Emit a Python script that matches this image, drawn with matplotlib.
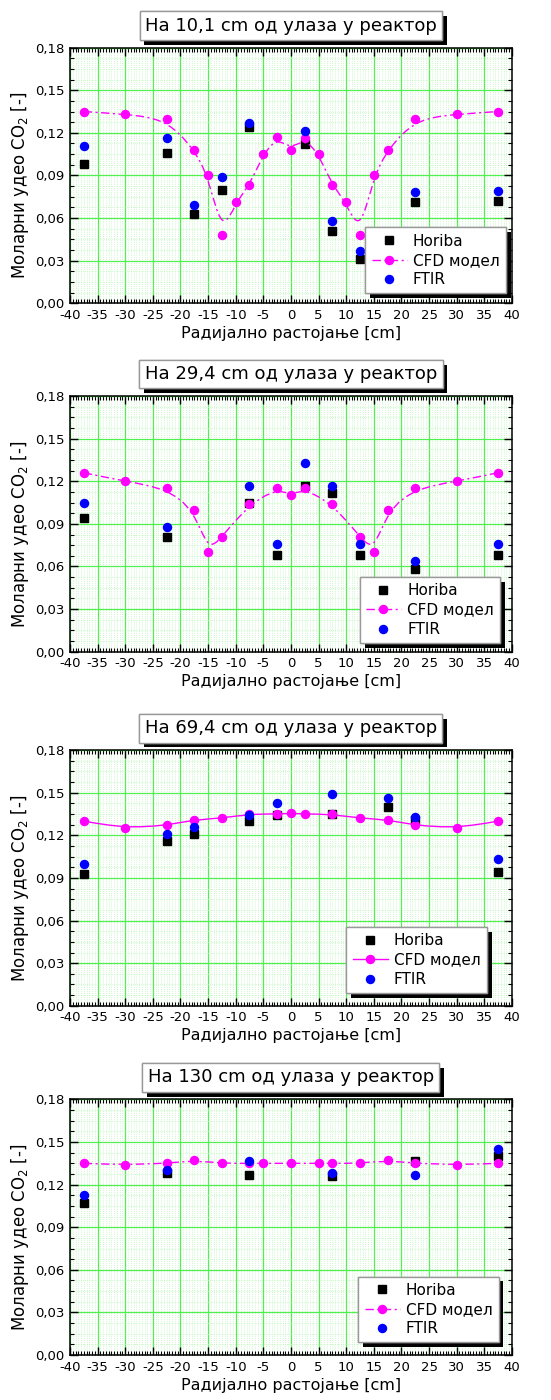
import matplotlib
matplotlib.use("Agg")
import matplotlib.pyplot as plt
import numpy as np
from matplotlib.path import Path
from matplotlib.patches import PathPatch
from matplotlib.lines import Line2D
from matplotlib.ticker import MultipleLocator, FuncFormatter
import matplotlib.patheffects as pe

plt.rcParams['font.family'] = ['DejaVu Sans']

# ---------------- data ----------------
titles = ["На 10,1 cm од улаза у реактор",
          "На 29,4 cm од улаза у реактор",
          "На 69,4 cm од улаза у реактор",
          "На 130 cm од улаза у реактор"]

x_meas_1 = [-37.5, -22.5, -17.5, -12.5, -7.5, 2.5, 7.5, 12.5, 22.5, 37.5]
horiba_1 = [0.098, 0.106, 0.063, 0.080, 0.124, 0.112, 0.051, 0.031, 0.071, 0.072]
ftir_1 = [0.111, 0.116, 0.069, 0.089, 0.127, 0.121, 0.058, 0.037, 0.078, 0.079]
x_cfd_1 = [-37.5, -30, -22.5, -17.5, -15, -12.5, -10, -7.5, -5, -2.5, 0,
           2.5, 5, 7.5, 10, 12.5, 15, 17.5, 22.5, 30, 37.5]
cfd_1 = [0.135, 0.133, 0.130, 0.108, 0.090, 0.048, 0.071, 0.083, 0.105, 0.117, 0.108,
         0.1165, 0.105, 0.083, 0.071, 0.048, 0.090, 0.108, 0.130, 0.133, 0.135]

x_meas_2 = [-37.5, -22.5, -7.5, -2.5, 2.5, 7.5, 12.5, 22.5, 37.5]
horiba_2 = [0.094, 0.081, 0.105, 0.068, 0.117, 0.112, 0.068, 0.058, 0.068]
ftir_2 = [0.105, 0.088, 0.117, 0.076, 0.133, 0.117, 0.076, 0.064, 0.076]
x_cfd_2 = [-37.5, -30, -22.5, -17.5, -15, -12.5, -7.5, -2.5, 0, 2.5, 7.5,
           12.5, 15, 17.5, 22.5, 30, 37.5]
cfd_2 = [0.126, 0.120, 0.115, 0.100, 0.070, 0.081, 0.104, 0.115, 0.110, 0.115, 0.104,
         0.081, 0.070, 0.100, 0.115, 0.120, 0.126]

x_meas_3 = [-37.5, -22.5, -17.5, -7.5, -2.5, 7.5, 17.5, 22.5, 37.5]
horiba_3 = [0.093, 0.116, 0.121, 0.130, 0.134, 0.135, 0.140, 0.131, 0.094]
ftir_3 = [0.100, 0.121, 0.126, 0.1345, 0.143, 0.149, 0.146, 0.133, 0.103]
x_cfd_3 = [-37.5, -30, -22.5, -17.5, -12.5, -7.5, -2.5, 0, 2.5, 7.5,
           12.5, 17.5, 22.5, 30, 37.5]
cfd_3 = [0.130, 0.125, 0.127, 0.131, 0.132, 0.135, 0.135, 0.1355, 0.135, 0.1348,
         0.132, 0.131, 0.127, 0.125, 0.130]

x_meas_4 = [-37.5, -22.5, -7.5, 7.5, 22.5, 37.5]
horiba_4 = [0.107, 0.128, 0.127, 0.126, 0.1365, 0.140]
ftir_4 = [0.113, 0.130, 0.1365, 0.128, 0.127, 0.145]
x_cfd_4 = [-37.5, -30, -22.5, -17.5, -12.5, -7.5, -5, 0, 5, 7.5,
           12.5, 17.5, 22.5, 30, 37.5]
cfd_4 = [0.135, 0.134, 0.135, 0.137, 0.135, 0.135, 0.135, 0.135, 0.135, 0.135,
         0.135, 0.137, 0.135, 0.134, 0.135]

legend_labels = ["Horiba", "CFD модел", "FTIR"]
xlabel = "Радијално растојање [cm]"
ylabel = "Моларни удео CO$_2$ [-]"

panels = [
    (x_meas_1, horiba_1, ftir_1, x_cfd_1, cfd_1),
    (x_meas_2, horiba_2, ftir_2, x_cfd_2, cfd_2),
    (x_meas_3, horiba_3, ftir_3, x_cfd_3, cfd_3),
    (x_meas_4, horiba_4, ftir_4, x_cfd_4, cfd_4),
]

# ---------------- style ----------------
DASHDOT = (0, (6, 2.5, 1.5, 2.5))
line_styles = [DASHDOT, DASHDOT, '-', DASHDOT]
bottoms = [0.7834, 0.5345, 0.2816, 0.0321]
legend_anchor = [(0.986, 0.039), (0.973, 0.034), (0.943, 0.05), (0.97, 0.05)]
MAG = '#ff00ff'
BLUE = '#0000ff'
MS_C = 5.8
MS_S = 6.0
shadow = [pe.withSimplePatchShadow(offset=(3.5, -3.5), shadow_rgbFace='black', alpha=1.0),
          pe.Normal()]


def bspline_path(xs, ys):
    """Cubic B-spline connector (data points as control points) as Bezier path."""
    P = np.column_stack([xs, ys]).astype(float)
    Q = np.vstack([P[:1], P[:1], P, P[-1:], P[-1:]])
    verts = []
    codes = []
    for i in range(len(Q) - 3):
        q0, q1, q2, q3 = Q[i], Q[i + 1], Q[i + 2], Q[i + 3]
        s = (q0 + 4 * q1 + q2) / 6
        c1 = (2 * q1 + q2) / 3
        c2 = (q1 + 2 * q2) / 3
        e = (q1 + 4 * q2 + q3) / 6
        if i == 0:
            verts.append(s)
            codes.append(Path.MOVETO)
        verts += [c1, c2, e]
        codes += [Path.CURVE4] * 3
    return Path(np.array(verts), codes)


fig = plt.figure(figsize=(5.51, 14), dpi=100)

for k, (xm, hor, ft, xc, cf) in enumerate(panels):
    ax = fig.add_axes([0.127, bottoms[k], 0.802, 0.1826])
    ax.set_xlim(-40, 40)
    ax.set_ylim(0, 0.18)
    ax.xaxis.set_major_locator(MultipleLocator(5))
    ax.xaxis.set_minor_locator(MultipleLocator(0.5))
    ax.yaxis.set_major_locator(MultipleLocator(0.03))
    ax.yaxis.set_minor_locator(MultipleLocator(0.0075))
    ax.xaxis.set_major_formatter(FuncFormatter(lambda v, p: f"{v:g}"))
    ax.yaxis.set_major_formatter(FuncFormatter(lambda v, p: f"{v:.2f}".replace('.', ',')))
    ax.grid(which='minor', color='#bdf7bd', linestyle=(0, (1, 1.5)), linewidth=0.6)
    ax.grid(which='major', color='#50f050', linestyle='-', linewidth=0.9)
    ax.set_axisbelow(True)
    ax.tick_params(which='both', direction='in', top=True, right=True, labelsize=9.5,
                   colors='black', pad=4)
    ax.tick_params(which='major', length=6, width=1)
    ax.tick_params(which='minor', length=3, width=0.8)
    for s in ax.spines.values():
        s.set_linewidth(1.1)

    ax.plot(xm, hor, 's', color='black', ms=MS_S, zorder=3)
    patch = PathPatch(bspline_path(xc, cf), facecolor='none', edgecolor=MAG,
                      linewidth=1.0, linestyle=line_styles[k], zorder=3)
    ax.add_patch(patch)
    ax.plot(xc, cf, 'o', color=MAG, ms=MS_C, zorder=4)
    ax.plot(xm, ft, 'o', color=BLUE, ms=MS_C, zorder=5)

    ax.set_xlabel(xlabel, fontsize=11.5, labelpad=3)
    ax.set_ylabel(ylabel, fontsize=12)
    ax.yaxis.set_label_coords(-0.088, 0.46)

    handles = [
        Line2D([], [], color='black', marker='s', ls='none', ms=MS_S),
        Line2D([], [], color=MAG, marker='o', ls=line_styles[k], lw=1.0, ms=MS_C),
        Line2D([], [], color=BLUE, marker='o', ls='none', ms=MS_C),
    ]
    leg = ax.legend(handles, legend_labels, loc='lower right',
                    bbox_to_anchor=legend_anchor[k], borderaxespad=0,
                    fontsize=11, handlelength=2.3, handletextpad=0.4,
                    labelspacing=0.28, borderpad=0.4, fancybox=False,
                    framealpha=1, edgecolor='#999999')
    leg.get_frame().set_linewidth(1.0)
    leg.get_frame().set_path_effects(shadow)

    t = ax.text(0.5, 1.086, titles[k], transform=ax.transAxes, ha='center', va='center',
                fontsize=13, zorder=10,
                bbox=dict(boxstyle='square,pad=0.3', facecolor='white',
                          edgecolor='#999999', linewidth=1.0))
    t.get_bbox_patch().set_path_effects(shadow)

fig.savefig("out.png", dpi=100)
